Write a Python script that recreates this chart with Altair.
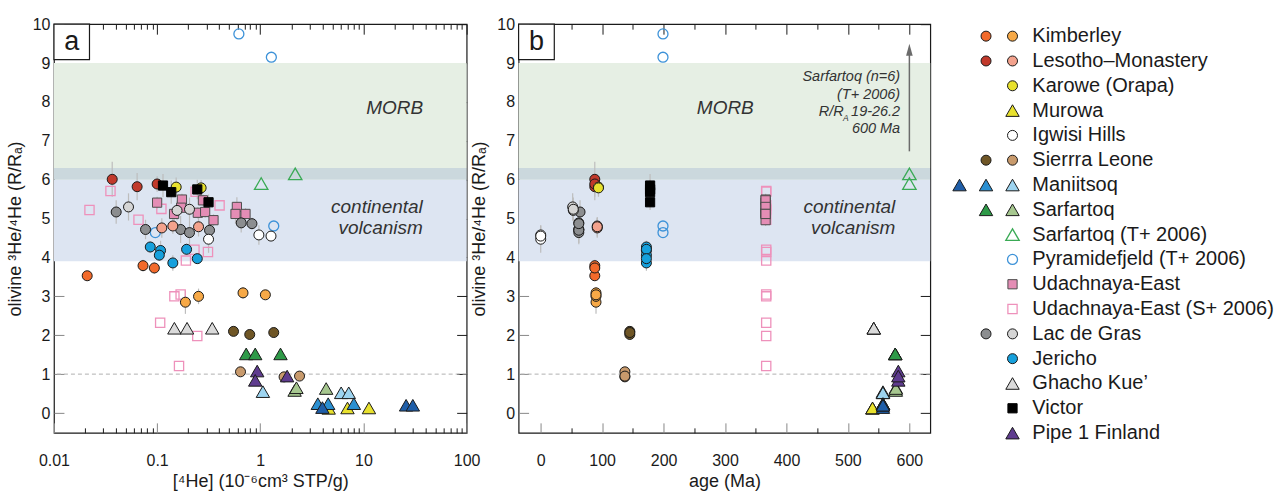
import altair as alt
import pandas as pd

FONT = "Liberation Sans"

# ---------------- data ----------------
# per group: [4He] (1e-6 cm3 STP/g), olivine 3He/4He (R/RA), error half-range (R/RA), age (Ma)
KIM_D_HE = [0.021, 0.073, 0.094]
KIM_D_R = [3.53, 3.79, 3.73]
KIM_D_ERR = [0.12, 0.15, 0.15]
KIM_D_AGE = [88, 88, 88]

KIM_L_HE = [0.188, 0.252, 0.68, 1.12]
KIM_L_R = [2.85, 3.00, 3.09, 3.04]
KIM_L_ERR = [0.30, 0.20, 0.15, 0.10]
KIM_L_AGE = [90, 90, 90, 90]

LES_D_HE = [0.0367, 0.064, 0.10]
LES_D_R = [6.01, 5.82, 5.89]
LES_D_ERR = [0.45, 0.35, 0.20]
LES_D_AGE = [88, 88, 88]

LES_L_HE = [0.111, 0.142, 0.252]
LES_L_R = [4.76, 4.81, 4.79]
LES_L_ERR = [0.25, 0.20, 0.25]
LES_L_AGE = [92, 92, 92]

KAR_HE = [0.153, 0.267]
KAR_R = [5.81, 5.79]
KAR_ERR = [0.25, 0.20]
KAR_AGE = [94, 94]

MUR_HE = [4.6, 7.0, 11.3]
MUR_R = [0.12, 0.13, 0.13]
MUR_ERR = [0, 0, 0]
MUR_AGE = [540, 540, 540]

IGW_HE = [0.315, 0.969, 1.27]
IGW_R = [4.47, 4.58, 4.55]
IGW_ERR = [0.35, 0.25, 0.10]
IGW_AGE = [0, 0, 0]

SIE_D_HE = [0.55, 0.79, 1.35]
SIE_D_R = [2.10, 2.02, 2.07]
SIE_D_ERR = [0, 0, 0]
SIE_D_AGE = [145, 145, 145]

SIE_L_HE = [0.643, 1.70, 2.40]
SIE_L_R = [1.06, 0.93, 0.95]
SIE_L_ERR = [0, 0, 0]
SIE_L_AGE = [137, 137, 137]

MAN_D_HE = [4.0, 25.9, 30.1]
MAN_D_R = [0.14, 0.20, 0.20]
MAN_D_ERR = [0, 0, 0]
MAN_D_AGE = [557, 557, 557]

MAN_M_HE = [3.61, 4.55, 8.07]
MAN_M_R = [0.24, 0.24, 0.24]
MAN_M_ERR = [0, 0, 0]
MAN_M_AGE = [557, 557, 557]

MAN_L_HE = [1.06, 6.08, 7.2]
MAN_L_R = [0.55, 0.52, 0.52]
MAN_L_ERR = [0, 0, 0]
MAN_L_AGE = [557, 557, 557]

SAR_D_HE = [0.73, 0.893, 1.57]
SAR_D_R = [1.52, 1.52, 1.52]
SAR_D_ERR = [0, 0, 0]
SAR_D_AGE = [577, 577, 577]

SAR_L_HE = [2.15, 2.24, 4.35]
SAR_L_R = [0.58, 0.65, 0.63]
SAR_L_ERR = [0, 0, 0]
SAR_L_AGE = [578, 578, 578]

SAR_T_HE = [1.02, 2.18]
SAR_T_R = [5.90, 6.15]
SAR_T_ERR = [0, 0]
SAR_T_AGE = [600, 600]

PYR_HE = [0.62, 1.28, 1.35, 0.096]
PYR_R = [9.75, 9.15, 4.81, 4.64]
PYR_ERR = [0, 0, 0, 0]
PYR_AGE = [199, 199, 199, 199]

UDA_HE = [0.100, 0.174, 0.146, 0.171, 0.248, 0.292, 0.278, 0.352, 0.593, 0.575, 0.719]
UDA_R = [5.41, 5.49, 5.12, 5.28, 5.15, 5.17, 5.47, 4.96, 5.30, 5.12, 5.12]
UDA_ERR = [0.15, 0.15, 0.20, 0.15, 0.15, 0.15, 0.15, 0.15, 0.25, 0.25, 0.15]
UDA_AGE = [366, 366, 366, 366, 366, 366, 366, 366, 366, 366, 366]

UDA_S_HE = [0.0353, 0.0221, 0.066, 0.11, 0.236, 0.403, 0.230, 0.311, 0.19, 0.147, 0.169, 0.107, 0.245, 0.163]
UDA_S_R = [5.71, 5.22, 4.97, 5.25, 5.69, 5.34, 4.20, 4.14, 3.92, 3.00, 3.05, 2.32, 1.98, 1.21]
UDA_S_ERR = [0, 0, 0, 0, 0, 0, 0, 0, 0, 0, 0, 0, 0, 0]
UDA_S_AGE = [367, 367, 367, 367, 367, 367, 367, 367, 367, 367, 367, 367, 367, 367]

LAC_D_HE = [0.0401, 0.0772, 0.169, 0.206, 0.322, 0.653, 0.83]
LAC_D_R = [5.17, 4.72, 4.72, 4.64, 4.70, 4.89, 4.87]
LAC_D_ERR = [0.30, 0.25, 0.35, 0.30, 0.20, 0.25, 0.15]
LAC_D_AGE = [64, 62, 62, 62, 62, 62, 62]

LAC_L_HE = [0.0528, 0.156, 0.206]
LAC_L_R = [5.30, 5.21, 5.24]
LAC_L_ERR = [0.35, 0.25, 0.30]
LAC_L_AGE = [52, 53, 53]

JER_HE = [0.0858, 0.108, 0.105, 0.142, 0.193, 0.245]
JER_R = [4.27, 4.18, 4.06, 3.86, 4.21, 3.97]
JER_ERR = [0.15, 0.25, 0.15, 0.20, 0.15, 0.10]
JER_AGE = [172, 172, 172, 172, 172, 172]

GHA_HE = [0.147, 0.195, 0.342]
GHA_R = [2.18, 2.18, 2.18]
GHA_ERR = [0, 0, 0]
GHA_AGE = [542, 542, 542]

VIC_HE = [0.114, 0.137, 0.245, 0.315]
VIC_R = [5.85, 5.68, 5.75, 5.42]
VIC_ERR = [0.30, 0.30, 0.25, 0.20]
VIC_AGE = [178, 178, 178, 178]

PIPE_HE = [0.933, 0.893, 1.82]
PIPE_R = [1.08, 0.84, 0.95]
PIPE_ERR = [0, 0, 0]
PIPE_AGE = [582, 582, 582]

# background fields (R/RA)
BAND_LO = [3.9, 6.0, 6.3]
BAND_HI = [6.0, 6.3, 9.0]
REF_LINE = [1.0]

# ticks
A_MAJOR = [0.01, 0.1, 1, 10, 100]
A_MINOR = [m * d for d in (0.01, 0.1, 1, 10) for m in (2, 3, 4, 5, 6, 7, 8, 9)]
B_MAJOR = [0, 100, 200, 300, 400, 500, 600]
B_MINOR = [50, 150, 250, 350, 450, 550]
Y_MAJOR = [0, 1, 2, 3, 4, 5, 6, 7, 8, 9, 10]

# annotations
ANN_A_X = [37.8, 37.6, 37.6]
ANN_A_Y = [7.69, 5.15, 4.60]
ANN_A_T = ["MORB", "continental", "volcanism"]
ANN_B_X = [346.7, 577, 577, 585, 585, 585, 501, 493, 585]
ANN_B_Y = [7.69, 5.15, 4.60, 8.55, 8.08, 7.63, 7.52, 7.63, 7.20]
ANN_B_T = ["MORB", "continental", "volcanism", "Sarfartoq (n=6)", "(T+ 2006)",
           "19-26.2", "A", "R/R", "600 Ma"]
ARROW_AGE = [600]
ARROW_LO = [6.73]
ARROW_HI = [9.25]
ARROW_HEAD = [9.34]
BOX_A_X = [0.01, 0.0221]
BOX_B_X = [-36, 22.1]
BOX_Y = [9.09, 10.0]

LEGEND_LABELS = ["Kimberley", "Lesotho\u2013Monastery", "Karowe (Orapa)", "Murowa", "Igwisi Hills",
                 "Sierrra Leone", "Maniitsoq", "Sarfartoq", "Sarfartoq (T+ 2006)",
                 "Pyramidefjeld (T+ 2006)", "Udachnaya-East", "Udachnaya-East (S+ 2006)",
                 "Lac de Gras", "Jericho", "Ghacho Kue\u2019", "Victor", "Pipe 1 Finland"]
LEGEND_KEYS = [[None, "KIM_D", "KIM_L"], [None, "LES_D", "LES_L"], [None, None, "KAR"],
               [None, None, "MUR"], [None, None, "IGW"], [None, "SIE_D", "SIE_L"],
               ["MAN_D", "MAN_M", "MAN_L"], [None, "SAR_D", "SAR_L"], [None, None, "SAR_T"],
               [None, None, "PYR"], [None, None, "UDA"], [None, None, "UDA_S"],
               [None, "LAC_D", "LAC_L"], [None, None, "JER"], [None, None, "GHA"],
               [None, None, "VIC"], [None, None, "PIPE"]]

SERIES = [
    ("UDA_S", UDA_S_HE, UDA_S_R, UDA_S_ERR, UDA_S_AGE),
    ("PYR", PYR_HE, PYR_R, PYR_ERR, PYR_AGE),
    ("SAR_T", SAR_T_HE, SAR_T_R, SAR_T_ERR, SAR_T_AGE),
    ("UDA", UDA_HE, UDA_R, UDA_ERR, UDA_AGE),
    ("LAC_D", LAC_D_HE, LAC_D_R, LAC_D_ERR, LAC_D_AGE),
    ("LAC_L", LAC_L_HE, LAC_L_R, LAC_L_ERR, LAC_L_AGE),
    ("LES_L", LES_L_HE, LES_L_R, LES_L_ERR, LES_L_AGE),
    ("JER", JER_HE, JER_R, JER_ERR, JER_AGE),
    ("KIM_D", KIM_D_HE, KIM_D_R, KIM_D_ERR, KIM_D_AGE),
    ("KIM_L", KIM_L_HE, KIM_L_R, KIM_L_ERR, KIM_L_AGE),
    ("LES_D", LES_D_HE, LES_D_R, LES_D_ERR, LES_D_AGE),
    ("KAR", KAR_HE, KAR_R, KAR_ERR, KAR_AGE),
    ("IGW", IGW_HE, IGW_R, IGW_ERR, IGW_AGE),
    ("VIC", VIC_HE, VIC_R, VIC_ERR, VIC_AGE),
    ("SIE_D", SIE_D_HE, SIE_D_R, SIE_D_ERR, SIE_D_AGE),
    ("SIE_L", SIE_L_HE, SIE_L_R, SIE_L_ERR, SIE_L_AGE),
    ("GHA", GHA_HE, GHA_R, GHA_ERR, GHA_AGE),
    ("SAR_D", SAR_D_HE, SAR_D_R, SAR_D_ERR, SAR_D_AGE),
    ("SAR_L", SAR_L_HE, SAR_L_R, SAR_L_ERR, SAR_L_AGE),
    ("PIPE", PIPE_HE, PIPE_R, PIPE_ERR, PIPE_AGE),
    ("MUR", MUR_HE, MUR_R, MUR_ERR, MUR_AGE),
    ("MAN_L", MAN_L_HE, MAN_L_R, MAN_L_ERR, MAN_L_AGE),
    ("MAN_M", MAN_M_HE, MAN_M_R, MAN_M_ERR, MAN_M_AGE),
    ("MAN_D", MAN_D_HE, MAN_D_R, MAN_D_ERR, MAN_D_AGE),
]

# ---------------- styles ----------------
EDGE = "#1a1a1a"
STYLE = {  # shape, fill, stroke, strokeWidth
    "KIM_D": ("circle", "#f26a2b", EDGE, 1.0),
    "KIM_L": ("circle", "#f7a947", EDGE, 1.0),
    "LES_D": ("circle", "#c1392b", EDGE, 1.0),
    "LES_L": ("circle", "#f3a28d", EDGE, 1.0),
    "KAR": ("circle", "#e8e12e", EDGE, 1.0),
    "MUR": ("triangle-up", "#e8e12e", EDGE, 1.0),
    "IGW": ("circle", "#ffffff", EDGE, 1.0),
    "SIE_D": ("circle", "#6f5626", EDGE, 1.0),
    "SIE_L": ("circle", "#c89a6c", EDGE, 1.0),
    "MAN_D": ("triangle-up", "#1f5ea8", EDGE, 1.0),
    "MAN_M": ("triangle-up", "#2a8fd1", EDGE, 1.0),
    "MAN_L": ("triangle-up", "#9dd4f0", EDGE, 1.0),
    "SAR_D": ("triangle-up", "#2e9a48", EDGE, 1.0),
    "SAR_L": ("triangle-up", "#a6c78f", EDGE, 1.0),
    "SAR_T": ("triangle-up", "transparent", "#3aaa55", 1.3),
    "PYR": ("circle", "transparent", "#3d92d8", 1.3),
    "UDA": ("square", "#e48db5", "#4d4d4d", 1.0),
    "UDA_S": ("square", "transparent", "#ee91bb", 1.3),
    "LAC_D": ("circle", "#8c8e90", EDGE, 1.0),
    "LAC_L": ("circle", "#d5d5d5", EDGE, 1.0),
    "JER": ("circle", "#16a0dc", EDGE, 1.0),
    "GHA": ("triangle-up", "#dadada", EDGE, 1.0),
    "VIC": ("square", "#000000", "#000000", 1.0),
    "PIPE": ("triangle-up", "#5f3c8f", EDGE, 1.0),
}
SIZE = {"circle": 100, "square": 85, "triangle-up": 180}

rows = []
for key, he, r, err, age in SERIES:
    shp, fil, stk, sw = STYLE[key]
    for h, v, e, a in zip(he, r, err, age):
        rows.append(dict(key=key, he=h, r=v, lo=v - e, hi=v + e, err=e, age=a,
                         shape=shp, fill=fil, stroke=stk, sw=sw, sz=SIZE[shp]))
pts_df = pd.DataFrame(rows)
err_df = pts_df[pts_df["err"] > 0]
band_df = pd.DataFrame({"lo": BAND_LO, "hi": BAND_HI,
                        "c": ["#dde5f2", "#cbd8dd", "#e6efe4"]})
ref_df = pd.DataFrame({"y": REF_LINE})

YS = alt.Scale(domain=[-0.51, 10], nice=False, zero=False)


def tick_axis(orient, values, size):
    return alt.Axis(orient=orient, values=values, tickSize=size, offset=-size, labels=False,
                    domain=False, title=None, grid=False, tickColor="#1a1a1a", tickWidth=1)


Y_LEFT = alt.Axis(orient="left", values=Y_MAJOR, tickSize=10, offset=-10, labelPadding=4,
                  domain=False, grid=False, format="d",
                  title="olivine \u00b3He/\u2074He (R/R\u2090)", titlePadding=8)
Y_RIGHT = tick_axis("right", Y_MAJOR, 10)


def panel(xf, xscale, major, minor, xtitle, fmt, box_x, letter, ann_x, ann_y, ann_t, ann_fs,
          extra, width):
    xa_lab = alt.Axis(orient="bottom", values=major, tickSize=10, offset=-10, labelPadding=20,
                      format=fmt, labelFlush=False, labelOverlap=False, domain=False, grid=False,
                      title=xtitle, titlePadding=4)
    xa_min = tick_axis("bottom", minor, 5)
    xa_top = tick_axis("top", major, 10)
    xa_topmin = tick_axis("top", minor, 5)

    bands = alt.Chart(band_df).mark_rect().encode(
        y=alt.Y("lo:Q", scale=YS, axis=None), y2="hi:Q", fill=alt.Fill("c:N", scale=None))
    dash = alt.Chart(ref_df).mark_rule(color="#b0b0b0", strokeDash=[4, 3], strokeWidth=1).encode(
        y=alt.Y("y:Q", scale=YS, axis=None))
    errs = alt.Chart(err_df).mark_rule(color="#bdbdbd", strokeWidth=1.2).encode(
        x=alt.X(f"{xf}:Q", scale=xscale, axis=xa_lab),
        y=alt.Y("lo:Q", scale=YS, axis=Y_LEFT), y2="hi:Q")
    pts = alt.Chart(pts_df).mark_point(filled=True, opacity=1).encode(
        x=alt.X(f"{xf}:Q", scale=xscale, axis=xa_min),
        y=alt.Y("r:Q", scale=YS, axis=Y_RIGHT),
        shape=alt.Shape("shape:N", scale=None),
        fill=alt.Fill("fill:N", scale=None),
        stroke=alt.Stroke("stroke:N", scale=None),
        strokeWidth=alt.StrokeWidth("sw:Q", scale=None),
        size=alt.Size("sz:Q", scale=None))
    ann_df = pd.DataFrame({"x": ann_x, "y": ann_y, "t": ann_t, "fs": ann_fs})
    ann = alt.Chart(ann_df).mark_text(align="right", baseline="alphabetic", font=FONT,
                                      fontStyle="italic", color="#333333").encode(
        x=alt.X("x:Q", scale=xscale, axis=xa_top),
        y=alt.Y("y:Q", scale=YS, axis=None),
        text="t:N", size=alt.Size("fs:Q", scale=None))
    if xscale.type == "log":
        cx = (box_x[0] * box_x[1]) ** 0.5
    else:
        cx = (box_x[0] + box_x[1]) / 2
    box_df = pd.DataFrame({"x0": [box_x[0]], "x1": [box_x[1]], "y0": [BOX_Y[0]],
                           "y1": [BOX_Y[1]], "cx": [cx], "cy": [(BOX_Y[0] + BOX_Y[1]) / 2],
                           "t": [letter]})
    box = alt.Chart(box_df).mark_rect(fill="white", stroke="#1a1a1a", strokeWidth=1.2).encode(
        x=alt.X("x0:Q", scale=xscale, axis=xa_topmin), x2="x1:Q",
        y=alt.Y("y0:Q", scale=YS, axis=None), y2="y1:Q")
    let = alt.Chart(box_df).mark_text(font=FONT, fontSize=27, baseline="middle",
                                      color="#1a1a1a").encode(
        x=alt.X("cx:Q", scale=xscale, axis=None),
        y=alt.Y("cy:Q", scale=YS, axis=None), text="t:N")
    layers = [bands, dash, errs, pts, ann, box, let] + extra(xscale)
    return alt.layer(*layers).resolve_axis(x="independent", y="independent").properties(
        width=width, height=409)


def no_extra(xscale):
    return []


def arrow(xscale):
    adf = pd.DataFrame({"x": ARROW_AGE, "lo": ARROW_LO, "hi": ARROW_HI, "head": ARROW_HEAD})
    line = alt.Chart(adf).mark_rule(color="#6b6b6b", strokeWidth=1.5).encode(
        x=alt.X("x:Q", scale=xscale, axis=None),
        y=alt.Y("lo:Q", scale=YS, axis=None), y2="hi:Q")
    head = alt.Chart(adf).mark_point(shape="M0,-1L0.55,1L-0.55,1Z", filled=True, opacity=1,
                                     size=144, color="#6b6b6b").encode(
        x=alt.X("x:Q", scale=xscale, axis=None),
        y=alt.Y("head:Q", scale=YS, axis=None))
    return [line, head]


XA = alt.Scale(type="log", domain=[0.01, 100], nice=False)
XB = alt.Scale(domain=[-36, 634], nice=False, zero=False)

pa = panel("he", XA, A_MAJOR, A_MINOR, "[\u2074He] (10\u207b\u2076cm\u00b3 STP/g)", "~g",
           BOX_A_X, "a", ANN_A_X, ANN_A_Y, ANN_A_T, [19, 19, 19], no_extra, 413)
pb = panel("age", XB, B_MAJOR, B_MINOR, "age (Ma)", "d", BOX_B_X, "b",
           ANN_B_X, ANN_B_Y, ANN_B_T, [19, 19, 19, 14.5, 14.5, 14.5, 8.5, 14.5, 14.5],
           arrow, 412)

# ---------------- legend panel ----------------
SPACING = 52
LEG_W = 298
COL_STEP = 26.5
LEG_START = 22.7 / COL_STEP  # distance of first symbol column left of the panel edge
leg_rows = []
for i, (lab, keys) in enumerate(zip(LEGEND_LABELS, LEGEND_KEYS)):
    for c, k in enumerate(keys):
        if k:
            shp, fil, stk, sw = STYLE[k]
            leg_rows.append(dict(row=i, col=c, shape=shp, fill=fil, stroke=stk, sw=sw,
                                 sz=SIZE[shp]))
leg_sym = pd.DataFrame(leg_rows)
leg_txt = pd.DataFrame({"row": list(range(len(LEGEND_LABELS))), "col": 2.75,
                        "t": LEGEND_LABELS})
LX = alt.Scale(domain=[LEG_START, LEG_START + LEG_W / COL_STEP], nice=False, zero=False)
LY = alt.Scale(domain=[-0.483, 15.99], nice=False, zero=False, reverse=True)
lsym = alt.Chart(leg_sym).mark_point(filled=True, opacity=1).encode(
    x=alt.X("col:Q", scale=LX, axis=None),
    y=alt.Y("row:Q", scale=LY, axis=None),
    shape=alt.Shape("shape:N", scale=None),
    fill=alt.Fill("fill:N", scale=None),
    stroke=alt.Stroke("stroke:N", scale=None),
    strokeWidth=alt.StrokeWidth("sw:Q", scale=None),
    size=alt.Size("sz:Q", scale=None))
ltxt = alt.Chart(leg_txt).mark_text(align="left", baseline="middle", font=FONT, fontSize=20,
                                    color="#1a1a1a").encode(
    x=alt.X("col:Q", scale=LX, axis=None),
    y=alt.Y("row:Q", scale=LY, axis=None), text="t:N")
leg = alt.layer(lsym, ltxt).properties(width=LEG_W, height=409,
                                       view=alt.ViewBackground(stroke="transparent"))

chart = alt.hconcat(pa, pb, leg, spacing=SPACING, bounds="flush").configure_view(
    stroke="#1a1a1a", strokeWidth=1.2
).configure_axis(
    grid=False, labelFont=FONT, titleFont=FONT, labelFontSize=16, titleFontSize=18,
    labelColor="#1a1a1a", titleColor="#1a1a1a", titleFontWeight="normal"
).properties(padding={"left": 5, "top": 15, "right": 0, "bottom": 0}, background="white")

chart.save("out.html", embed_options={"renderer": "svg", "actions": False})
